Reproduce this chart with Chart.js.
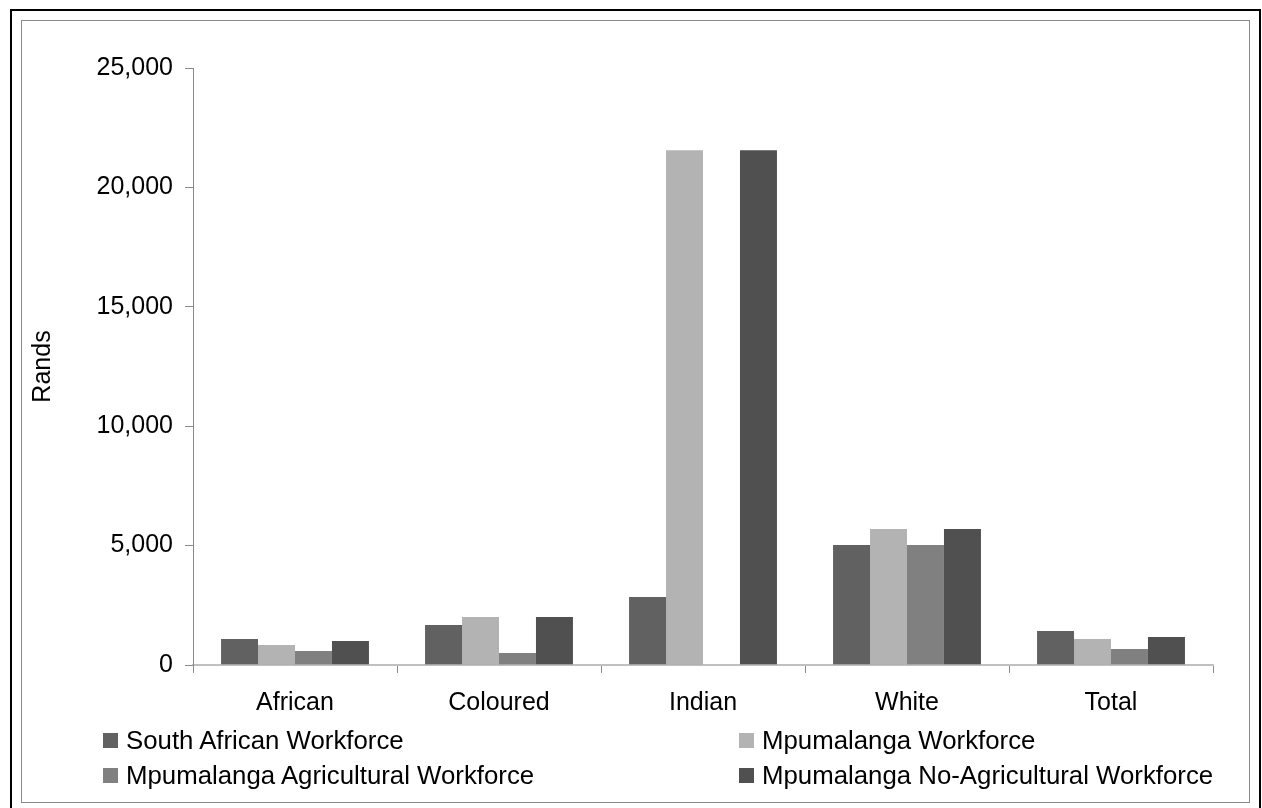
<!DOCTYPE html>
<html>
<head>
<meta charset="utf-8">
<script src="https://cdn.jsdelivr.net/npm/chart.js@4.4.1/dist/chart.umd.min.js"></script>
<style>
  body { margin:0; background:#fff; font-family:"Liberation Sans", Arial, sans-serif; }
  #outer { position:absolute; left:10px; top:9px; width:1251px; height:900px; border:2px solid #000; box-sizing:border-box; }
  #inner { position:absolute; left:21px; top:20px; width:1229px; height:783px; border:1px solid #8a8a8a; box-sizing:border-box; }
  #chart { position:absolute; left:0; top:0; }
  .leg { position:absolute; height:30px; display:flex; align-items:center; font-size:25.8px; color:#000; white-space:nowrap; }
  .leg span.box { display:inline-block; width:15px; height:15px; margin-right:8px; }
</style>
</head>
<body>
<div id="outer"></div>
<div id="inner"></div>
<canvas id="chart" width="1262" height="808"></canvas>
<div id="legend"></div>
<script>
// data
var categories = ['African', 'Coloured', 'Indian', 'White', 'Total'];
var southAfrican = [1090, 1680, 2850, 5030, 1425];
var mpumalanga = [840, 2010, 21560, 5700, 1090];
var mpAgri = [590, 500, 0, 5030, 670];
var mpNonAgri = [1005, 2010, 21560, 5700, 1175];
var yTicks = [0, 5000, 10000, 15000, 20000, 25000];

var seriesNames = ['South African Workforce', 'Mpumalanga Workforce',
  'Mpumalanga Agricultural Workforce', 'Mpumalanga No-Agricultural Workforce'];
var seriesColors = ['#616161', '#b3b3b3', '#808080', '#505050'];
var seriesData = [southAfrican, mpumalanga, mpAgri, mpNonAgri];

var font = { family: '"Liberation Sans", Arial, sans-serif', size: 25 };

var datasets = seriesData.map(function (d, i) {
  return {
    label: seriesNames[i],
    data: d,
    backgroundColor: seriesColors[i],
    borderWidth: 0,
    categoryPercentage: 0.725,
    barPercentage: 1
  };
});

var ctx = document.getElementById('chart').getContext('2d');
var chart = new Chart(ctx, {
  type: 'bar',
  data: { labels: categories, datasets: datasets },
  options: {
    responsive: false,
    animation: false,
    devicePixelRatio: 1,
    layout: { padding: { left: 22, right: 49, top: 68, bottom: 75 } },
    plugins: {
      legend: { display: false },
      tooltip: { enabled: false }
    },
    scales: {
      x: {
        grid: { offset: true, drawOnChartArea: false, drawTicks: true, tickLength: 8, color: '#8a8a8a' },
        border: { color: 'rgba(150,150,150,0.6)', width: 2, z: 1 },
        ticks: { color: '#000', font: font, padding: 15 }
      },
      y: {
        min: 0,
        max: 25000,
        afterBuildTicks: function (scale) {
          scale.ticks = yTicks.map(function (v) { return { value: v }; });
        },
        afterFit: function (scale) { scale.width = 171; },
        grid: { drawOnChartArea: false, drawTicks: true, tickLength: 8, color: '#8a8a8a' },
        border: { color: '#8a8a8a', width: 1 },
        ticks: {
          color: '#000', font: font, padding: 12,
          callback: function (v) { return Number(v).toLocaleString('en-US'); }
        },
        title: { display: true, text: 'Rands', color: '#000', font: font, padding: { top: 6, bottom: 0 } }
      }
    }
  }
});

// legend in two columns, like the original
var legendPos = [
  { left: 103, top: 725 },
  { left: 739, top: 725 },
  { left: 103, top: 760 },
  { left: 739, top: 760 }
];
var legend = document.getElementById('legend');
chart.data.datasets.forEach(function (ds, i) {
  var item = document.createElement('div');
  item.className = 'leg';
  item.style.left = legendPos[i].left + 'px';
  item.style.top = legendPos[i].top + 'px';
  var box = document.createElement('span');
  box.className = 'box';
  box.style.background = ds.backgroundColor;
  item.appendChild(box);
  item.appendChild(document.createTextNode(ds.label));
  legend.appendChild(item);
});
</script>
</body>
</html>
